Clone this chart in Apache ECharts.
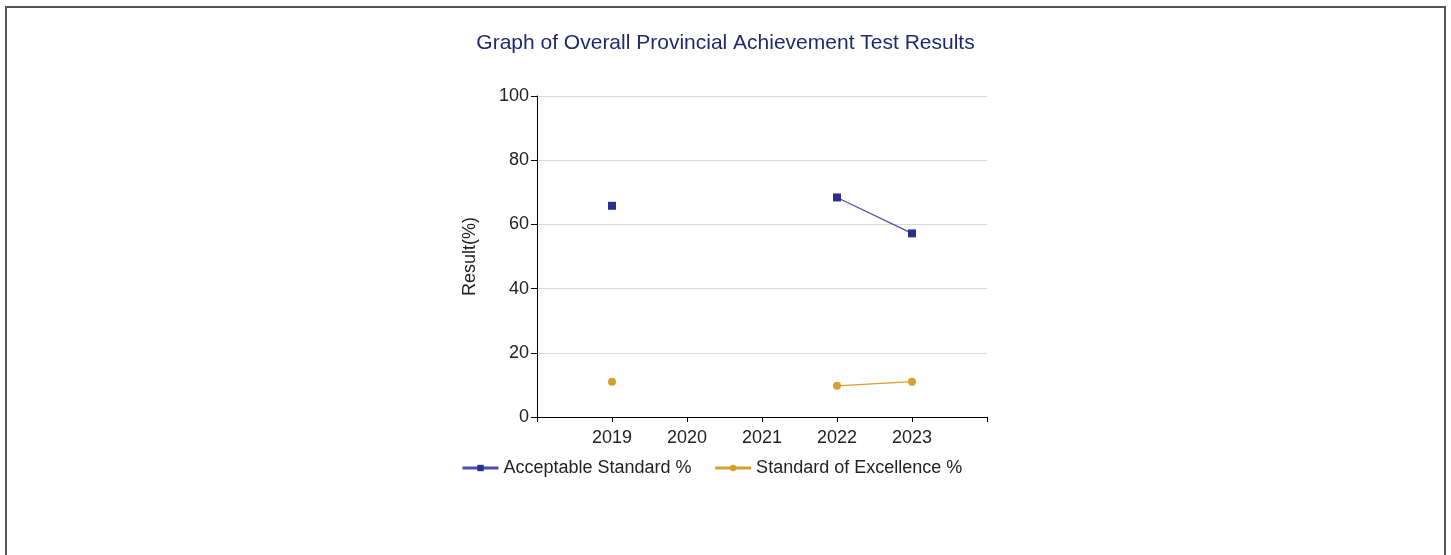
<!DOCTYPE html>
<html>
<head>
<meta charset="utf-8">
<script src="https://cdn.jsdelivr.net/npm/echarts@6/dist/echarts.min.js"></script>
<style>
  html, body { margin: 0; padding: 0; background: #fff; }
  #frame {
    position: absolute; left: 5px; top: 6px; width: 1441px; height: 600px;
    border: 2px solid #555; box-sizing: border-box; border-bottom: none;
  }
  #chart { position: absolute; left: 0; top: 0; width: 1451px; height: 555px; }
</style>
</head>
<body>
<div id="frame"></div>
<div id="chart"></div>
<script>
// chart data
var years = [2019, 2020, 2021, 2022, 2023];
var acceptable = [65.8, null, null, 68.4, 57.2];
var excellence = [11.0, null, null, 9.7, 11.0];
var yTicks = [0, 20, 40, 60, 80, 100];

function pairs(vals) {
  return years.map(function (y, i) { return [y, vals[i]]; });
}

var font = "Liberation Sans, Arial, sans-serif";
var myChart = echarts.init(document.getElementById("chart"));
myChart.setOption({
  animation: false,
  title: {
    text: "Graph of Overall Provincial Achievement Test Results",
    left: "center",
    top: 28,
    textStyle: {
      color: "#1f2a6e",
      fontSize: 21,
      fontWeight: "normal",
      fontFamily: font,
    },
  },
  grid: {
    left: 537,
    right: 464,
    top: 96,
    bottom: 138,
  },
  legend: {
    top: 454,
    left: 456,
    itemWidth: 36,
    itemHeight: 8,
    itemGap: 22,
    lineStyle: { width: 3 },
    textStyle: {
      color: "#222",
      fontSize: 18,
      fontFamily: font,
    },
    data: ["Acceptable Standard %", "Standard of Excellence %"],
  },
  xAxis: {
    type: "value",
    min: years[0] - 1,
    max: years[years.length - 1] + 1,
    interval: 1,
    splitLine: { show: false },
    axisLine: { lineStyle: { color: "#000", width: 1 } },
    axisTick: { show: true, length: 5, lineStyle: { color: "#000" } },
    axisLabel: {
      color: "#222",
      fontSize: 18,
      margin: 12,
      fontFamily: font,
      formatter: function (v) {
        return years.indexOf(v) >= 0 ? String(v) : "";
      },
      showMinLabel: true,
      showMaxLabel: true,
    },
  },
  yAxis: {
    type: "value",
    min: yTicks[0],
    max: yTicks[yTicks.length - 1],
    interval: 20,
    name: "Result(%)",
    nameLocation: "middle",
    nameGap: 58,
    nameTextStyle: {
      color: "#222",
      fontSize: 18,
      fontFamily: font,
    },
    axisLine: { show: true, lineStyle: { color: "#000", width: 1 } },
    axisTick: { show: true, length: 6, lineStyle: { color: "#000" } },
    axisLabel: {
      color: "#222",
      fontSize: 18,
      margin: 8,
      fontFamily: font,
    },
    splitLine: { lineStyle: { color: "#d9d9d9", width: 1 } },
  },
  series: [
    {
      name: "Acceptable Standard %",
      type: "line",
      data: pairs(acceptable),
      connectNulls: false,
      symbol: "rect",
      symbolSize: 8,
      itemStyle: { color: "#2b2f8f" },
      lineStyle: { color: "#4a4fae", width: 1.2 },
    },
    {
      name: "Standard of Excellence %",
      type: "line",
      data: pairs(excellence),
      connectNulls: false,
      symbol: "circle",
      symbolSize: 8,
      itemStyle: { color: "#d6a02c" },
      lineStyle: { color: "#d6a02c", width: 1.2 },
    },
  ],
});
</script>
</body>
</html>
